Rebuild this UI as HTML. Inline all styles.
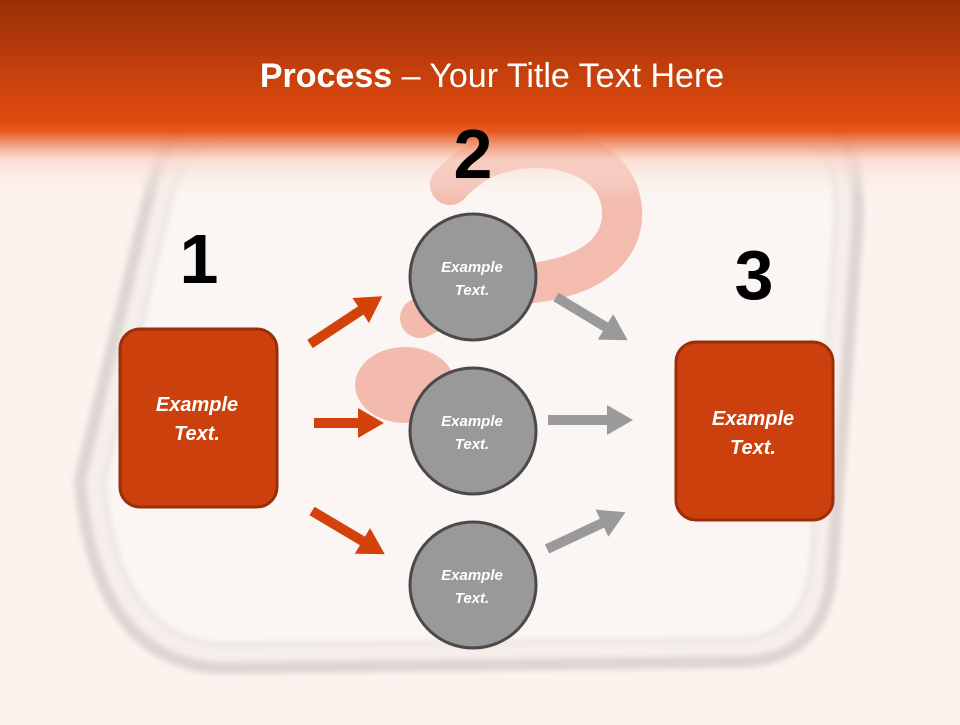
<!DOCTYPE html>
<html><head><style>
body{margin:0;width:960px;height:720px;overflow:hidden;background:#fcf3ef;font-family:"Liberation Sans",sans-serif}
</style></head><body>
<svg width="960" height="720" viewBox="0 0 960 720" xmlns="http://www.w3.org/2000/svg">
<defs>
<linearGradient id="hd" x1="0" y1="0" x2="0" y2="1">
<stop offset="0" stop-color="#9a3008"/>
<stop offset="0.6" stop-color="#e04a0e"/>
<stop offset="0.66" stop-color="#e85a22"/>
<stop offset="0.8" stop-color="#f8d4c6" stop-opacity="0.7"/>
<stop offset="1" stop-color="#fcf3ef" stop-opacity="0"/>
</linearGradient>
<filter id="bl"><feGaussianBlur stdDeviation="3"/></filter>
<marker id="ao" markerWidth="3" markerHeight="3" refX="1" refY="1.5" orient="auto"><path d="M0,0 L2.6,1.5 L0,3z" fill="#d4420c"/></marker>
<marker id="ag" markerWidth="3" markerHeight="3" refX="1" refY="1.5" orient="auto"><path d="M0,0 L2.6,1.5 L0,3z" fill="#9a9a9a"/></marker>
</defs>
<rect width="960" height="720" fill="#fcf3ef"/>
<!-- tray -->
<g filter="url(#bl)">
<path d="M215,115 L815,115 Q860,125 858,220 L832,570 Q825,660 740,662 L220,668 Q95,662 80,480 L148,200 Q165,120 215,115z" fill="#f6eeea" stroke="#ddd5d1" stroke-width="12"/>
<path d="M228,140 L800,140 Q838,150 836,220 L812,560 Q805,640 735,640 L225,645 Q115,640 104,480 L168,210 Q182,145 228,140z" fill="#fbf6f3" stroke="#ebe4e0" stroke-width="5"/>
</g>
<!-- question mark -->
<g opacity="0.75">
<path d="M450,185 Q490,140 560,150 Q625,165 622,220 Q615,270 540,282 Q470,292 420,318" fill="none" stroke="#f0a898" stroke-width="40" stroke-linecap="round"/>
<ellipse cx="405" cy="385" rx="50" ry="38" fill="#f0a898"/>
</g>
<rect width="960" height="200" fill="url(#hd)"/>
<text x="492" y="87" text-anchor="middle" font-size="34" fill="#fff"><tspan font-weight="bold">Process</tspan> – Your Title Text Here</text>
<text x="473" y="178" text-anchor="middle" font-size="70" font-weight="bold" fill="#000">2</text>
<text x="199" y="283" text-anchor="middle" font-size="70" font-weight="bold" fill="#000">1</text>
<text x="754" y="299" text-anchor="middle" font-size="70" font-weight="bold" fill="#000">3</text>
<g stroke-width="10" fill="none">
<line x1="310" y1="344" x2="369" y2="305" stroke="#d4420c" marker-end="url(#ao)"/>
<line x1="314" y1="423" x2="368" y2="423" stroke="#d4420c" marker-end="url(#ao)"/>
<line x1="312" y1="511" x2="371" y2="546" stroke="#d4420c" marker-end="url(#ao)"/>
<line x1="556" y1="297" x2="614" y2="332" stroke="#9a9a9a" marker-end="url(#ag)"/>
<line x1="548" y1="420" x2="617" y2="420" stroke="#9a9a9a" marker-end="url(#ag)"/>
<line x1="547" y1="549" x2="611" y2="519" stroke="#9a9a9a" marker-end="url(#ag)"/>
</g>
<rect x="120" y="329" width="157" height="178" rx="20" fill="#cc400d" stroke="#9a2e08" stroke-width="3"/>
<rect x="676" y="342" width="157" height="178" rx="20" fill="#cc400d" stroke="#9a2e08" stroke-width="3"/>
<g fill="#999" stroke="#4a4a4a" stroke-width="3">
<circle cx="473" cy="277" r="63"/><circle cx="473" cy="431" r="63"/><circle cx="473" cy="585" r="63"/>
</g>
<g fill="#fff" font-weight="bold" font-style="italic" text-anchor="middle">
<text x="197" y="411" font-size="20">Example</text><text x="197" y="440" font-size="20">Text.</text>
<text x="753" y="425" font-size="20">Example</text><text x="753" y="454" font-size="20">Text.</text>
<text x="472" y="272" font-size="15">Example</text><text x="472" y="295" font-size="15">Text.</text>
<text x="472" y="426" font-size="15">Example</text><text x="472" y="449" font-size="15">Text.</text>
<text x="472" y="580" font-size="15">Example</text><text x="472" y="603" font-size="15">Text.</text>
</g>
</svg>
</body></html>
